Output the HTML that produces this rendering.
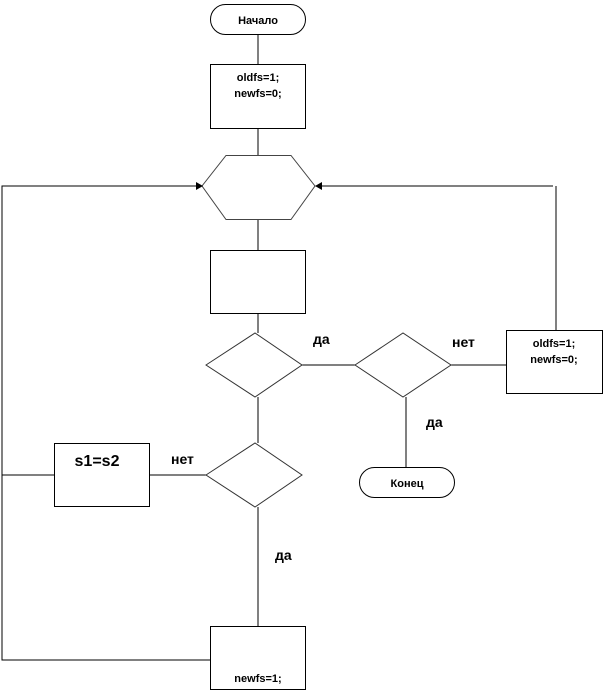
<!DOCTYPE html>
<html><head><meta charset="utf-8"><style>
html,body{margin:0;padding:0;background:#fff;}
svg{display:block;}
text{font-family:"Liberation Sans","DejaVu Sans",sans-serif;font-weight:bold;fill:#000;}
</style></head><body>
<svg width="606" height="693" viewBox="0 0 606 693" xmlns="http://www.w3.org/2000/svg">
<g fill="none" stroke="#000" stroke-width="1">
<line x1="258" y1="35" x2="258" y2="64"/>
<line x1="258" y1="128" x2="258" y2="155"/>
<line x1="258" y1="219" x2="258" y2="250"/>
<line x1="258" y1="313" x2="258" y2="333"/>
<line x1="258" y1="397" x2="258" y2="443"/>
<line x1="258" y1="507" x2="258" y2="626"/>
<line x1="302" y1="365" x2="355" y2="365"/>
<line x1="451" y1="365" x2="506" y2="365"/>
<line x1="406" y1="397" x2="406" y2="467"/>
<line x1="150" y1="475" x2="206" y2="475"/>
<line x1="2" y1="475" x2="54" y2="475"/>
<polyline points="198,186 2,186 2,660 210,660"/>
<polyline points="320,186 553,186"/>
<line x1="556" y1="186" x2="556" y2="330"/>
<rect x="210.5" y="4.5" width="95" height="30" rx="15"/>
<rect x="210.5" y="64.5" width="95" height="64"/>
<polygon points="226,155.5 291,155.5 315,186 291,219.5 226,219.5 202,186" stroke="#444"/>
<rect x="210.5" y="250.5" width="95" height="63"/>
<polygon points="206,365 255,333 302,365 255,397" stroke="#333"/>
<polygon points="355,365 403,333 451,365 403,397" stroke="#333"/>
<rect x="506.5" y="330.5" width="96" height="63"/>
<rect x="359.5" y="467.5" width="95" height="30" rx="15"/>
<polygon points="206,475 255,443 302,475 255,507" stroke="#333"/>
<rect x="54.5" y="443.5" width="95" height="63"/>
<rect x="210.5" y="626.5" width="95" height="63"/>
</g>
<g fill="#000">
<polygon points="203,186 196,182 196,190"/>
<polygon points="315,186 322,182 322,190"/>
</g>
<text x="258" y="24" font-size="11" text-anchor="middle">Начало</text>
<text x="258" y="81" font-size="11" text-anchor="middle">oldfs=1;</text>
<text x="258" y="97" font-size="11" text-anchor="middle">newfs=0;</text>
<text x="554" y="347" font-size="11" text-anchor="middle">oldfs=1;</text>
<text x="554" y="363" font-size="11" text-anchor="middle">newfs=0;</text>
<text x="407" y="487" font-size="11" text-anchor="middle">Конец</text>
<text x="258" y="682" font-size="11" text-anchor="middle">newfs=1;</text>
<text x="97" y="466" font-size="16" text-anchor="middle">s1=s2</text>
<text x="313" y="344" font-size="14">да</text>
<text x="452" y="347" font-size="14">нет</text>
<text x="426" y="427" font-size="14">да</text>
<text x="171" y="464" font-size="14">нет</text>
<text x="275" y="560" font-size="14">да</text>
</svg>
</body></html>
